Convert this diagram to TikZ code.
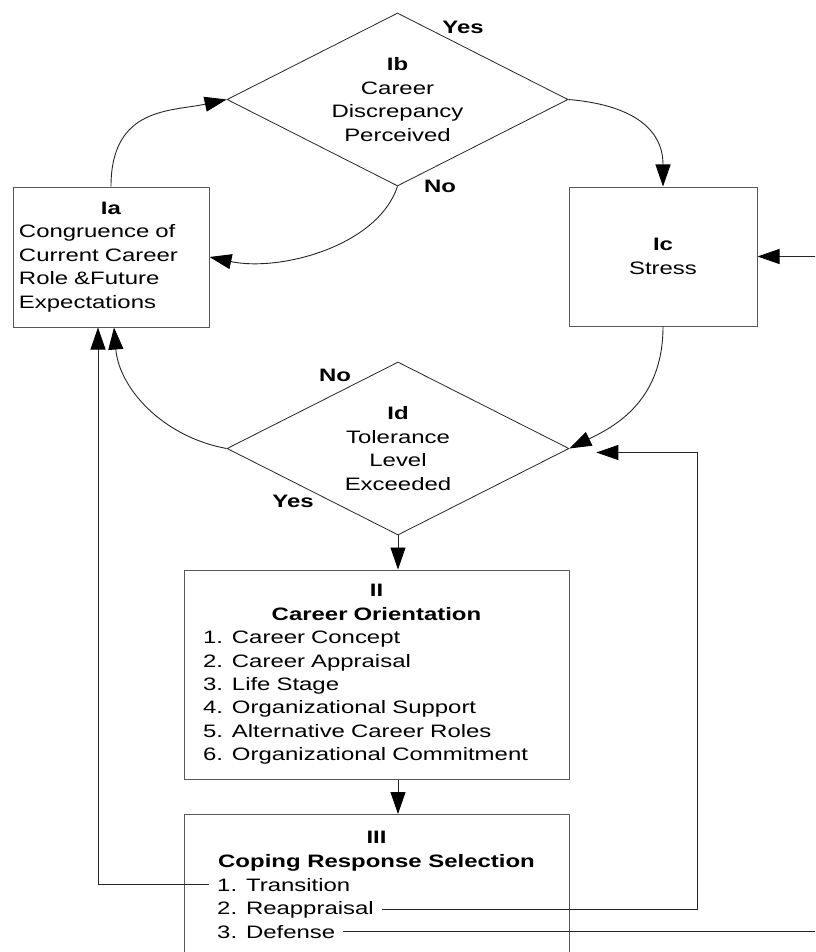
\documentclass[tikz,border=0pt]{standalone}
\usepackage{fontspec}
\setmainfont{Liberation Sans}[FakeStretch=1.33]
\usetikzlibrary{arrows.meta,shapes.geometric}
\begin{document}
\begin{tikzpicture}[x=1pt,y=-1pt,
  every node/.style={font=\fontsize{18}{23.4}\selectfont},
  box/.style={draw=black!65, line width=1pt, rectangle, inner ysep=0pt},
  decision/.style={draw=black!85, line width=0.8pt, diamond, aspect=2, inner sep=0pt,
    minimum width=341pt, minimum height=173pt, align=center},
  flow/.style={draw=black!85, line width=0.9pt, -{Triangle[length=22pt,width=15pt,fill=black,color=black]}},
  wire/.style={draw=black!85, line width=0.9pt},
  answer/.style={font=\fontsize{18}{23.4}\selectfont\bfseries, inner sep=0pt},
  item/.style={anchor=base west, inner xsep=8pt, inner ysep=0pt}
]
\clip (0,0) rectangle (815,952);

% boxes and decisions
\node[box, minimum width=196pt, minimum height=140pt, text width=184pt, inner xsep=6pt, align=left] (Ia) at (111,257)
  {\makebox[\linewidth]{\textbf{Ia}}\\Congruence of\\Current Career\\Role \&Future\\Expectations};
\node[decision] (Ib) at (397.5,99.5) {\textbf{Ib}\\Career\\Discrepancy\\Perceived};
\node[box, minimum width=188pt, minimum height=139pt, align=center] (Ic) at (663,256.5) {\textbf{Ic}\\Stress};
\node[decision, minimum width=342pt] (Id) at (398,448.5) {\textbf{Id}\\Tolerance\\Level\\Exceeded};
\node[box, minimum width=385pt, minimum height=209pt, text width=347pt, inner xsep=19pt, align=left] (II) at (376.5,674.5)
  {\makebox[\linewidth]{\textbf{II}}\\\makebox[\linewidth]{\textbf{Career Orientation}}\\
   1. Career Concept\\2. Career Appraisal\\3. Life Stage\\4. Organizational Support\\
   5. Alternative Career Roles\\6. Organizational Commitment};
\node[box, minimum width=385pt, minimum height=200pt, anchor=north] (III) at (376.5,814) {};
\node[inner sep=0pt, anchor=base] (IIIn) at (376.5,843) {\textbf{III}};
\node[inner sep=0pt, anchor=base] (IIIt) at (376.5,867) {\textbf{Coping Response Selection}};
\node[item] (t1) at (209,891) {1. Transition};
\node[item] (t2) at (209,914) {2. Reappraisal};
\node[item] (t3) at (209,938) {3. Defense};

% answers on the decision branches
\node[answer] (yes1) at (463,27) {Yes};
\node[answer] (no1) at (440,186) {No};
\node[answer] (no2) at (335,375) {No};
\node[answer] (yes2) at (293,501) {Yes};

% free ends
\coordinate (rim) at (830,0);
\coordinate (idin) at ([xshift=27pt,yshift=-4pt]Id.east);

% connectors
\draw[flow] (Ia.north) .. controls +(0,-80) and +(-55,12) .. (Ib.west);
\draw[flow] (Ib.south) .. controls +(-20,60) and +(70,15) .. (Ia.east);
\draw[flow] (Ib.east) .. controls +(60,5) and +(0,-60) .. (Ic.north);
\draw[flow] (Ic.south) .. controls +(0,75) and +(45,-22) .. (Id.east);
\draw[flow] (Id.west) .. controls +(-65,-12) and +(5,60) .. ([xshift=3pt]Ia.south);
\draw[flow] (Id.south) -- (Id.south |- II.north);
\draw[flow] (II.south -| Id.south) -- (III.north -| Id.south);
\draw[flow] (Ic.east -| rim) -- (Ic.east);
\draw[flow] (t1.west) -| ([xshift=-13pt]Ia.south);
\draw[flow] (t2.east) -| ([xshift=101pt]idin) -- (idin);
\draw[wire] (t3.east) -- (t3.east -| rim);
\end{tikzpicture}
\end{document}
